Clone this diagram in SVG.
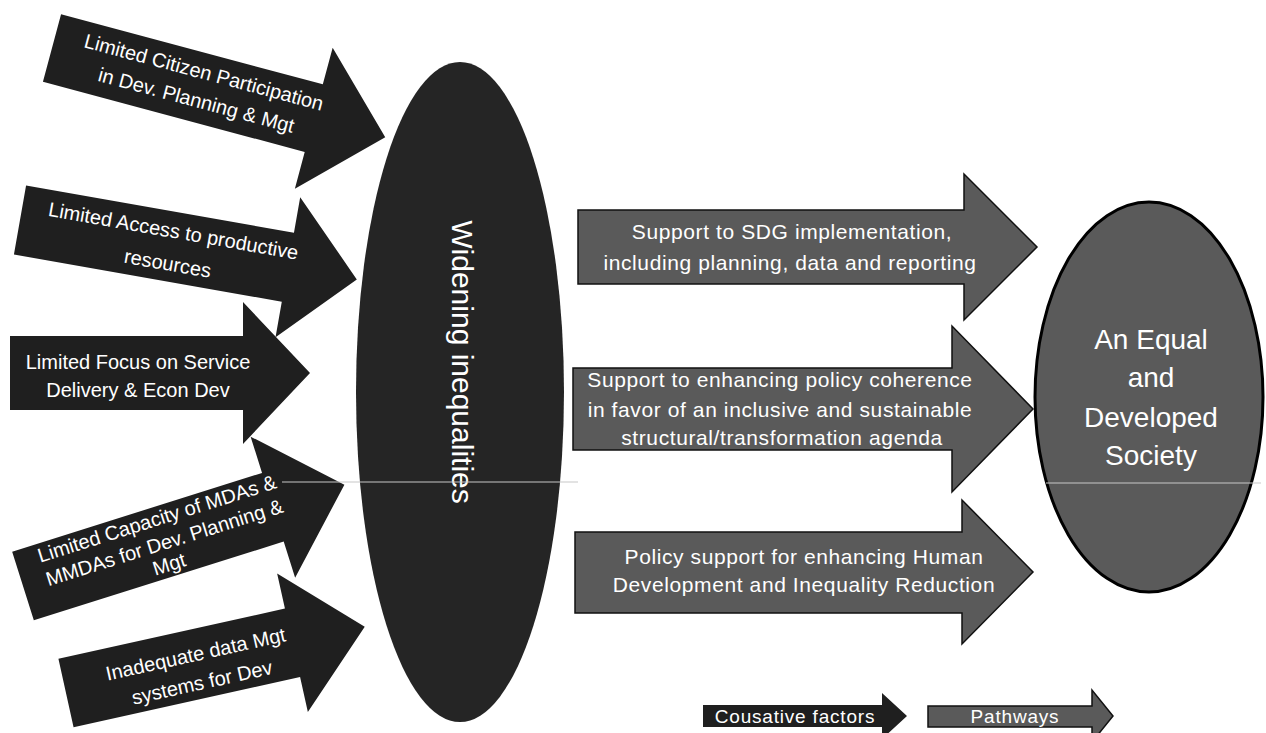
<svg xmlns="http://www.w3.org/2000/svg" width="1266" height="733" viewBox="0 0 1266 733">
<style>
  .cause { fill: #1f1f1f; }
  .path { fill: #5a5a5a; stroke: #111; stroke-width: 1.5; }
  .lt { font-family: "Liberation Sans", Arial, sans-serif; font-size: 20px; fill: #fff; text-anchor: middle; }
  .rt { font-family: "Liberation Sans", Arial, sans-serif; font-size: 21px; fill: #fff; text-anchor: middle; letter-spacing: 0.6px; }
  .big { font-family: "Liberation Sans", Arial, sans-serif; font-size: 28px; fill: #fff; text-anchor: middle; }
  .wid { font-family: "Liberation Sans", Arial, sans-serif; font-size: 30px; fill: #fff; text-anchor: middle; }
  .leg { font-family: "Liberation Sans", Arial, sans-serif; font-size: 19px; fill: #fff; text-anchor: middle; letter-spacing: 0.8px; }
  .scan { stroke: #c8c8c8; stroke-width: 1.2; }
</style>
<rect width="1266" height="733" fill="#fff"/>

<g id="connectors">
  <g id="cause1" transform="translate(52,48) rotate(15)">
    <path class="cause" d="M0,-35 L271,-35 L271,-73 L345,0 L271,73 L271,35 L0,35 Z"/>
    <text class="lt" x="153" y="-9">Limited Citizen Participation</text>
    <text class="lt" x="153" y="20">in Dev. Planning &amp; Mgt</text>
  </g>
  <g id="cause2" transform="translate(20,220) rotate(10)">
    <path class="cause" d="M0,-35 L272,-35 L272,-71 L342,0 L272,71 L272,35 L0,35 Z"/>
    <text class="lt" x="153" y="-9">Limited Access to productive</text>
    <text class="lt" x="153" y="24">resources</text>
  </g>
  <g id="cause3" transform="translate(10,373)">
    <path class="cause" d="M0,-37 L233,-37 L233,-71 L300,0 L233,71 L233,37 L0,37 Z"/>
    <text class="lt" x="128" y="-4">Limited Focus on Service</text>
    <text class="lt" x="128" y="24">Delivery &amp; Econ Dev</text>
  </g>
  <g id="cause4" transform="translate(23,586) rotate(-17.5)">
    <path class="cause" d="M0,-36 L262,-36 L262,-74 L337,0 L262,74 L262,36 L0,36 Z"/>
    <text class="lt" x="148" y="-17">Limited Capacity of MDAs &amp;</text>
    <text class="lt" x="148" y="8">MMDAs for Dev. Planning &amp;</text>
    <text class="lt" x="146" y="30">Mgt</text>
  </g>
  <g id="cause5" transform="translate(66,693) rotate(-12.5)">
    <path class="cause" d="M0,-35 L232,-35 L232,-71 L306,0 L232,71 L232,35 L0,35 Z"/>
    <text class="lt" x="135" y="-3">Inadequate data Mgt</text>
    <text class="lt" x="135" y="26">systems for Dev</text>
  </g>

  <g id="path1">
    <path class="path" d="M578,210 L964,210 L964,174 L1037,247 L964,320 L964,284 L578,284 Z"/>
    <text class="rt" x="792" y="239">Support to SDG implementation,</text>
    <text class="rt" x="790" y="270">including planning, data and reporting</text>
  </g>
  <g id="path2">
    <path class="path" d="M573,368 L952,368 L952,326 L1033,409 L952,492 L952,450 L573,450 Z"/>
    <text class="rt" x="780" y="387">Support to enhancing policy coherence</text>
    <text class="rt" x="780" y="417">in favor of an inclusive and sustainable</text>
    <text class="rt" x="782" y="445">structural/transformation agenda</text>
  </g>
  <g id="path3">
    <path class="path" d="M575,532 L962,532 L962,500 L1033,572 L962,644 L962,613 L575,613 Z"/>
    <text class="rt" x="804" y="564">Policy support for enhancing Human</text>
    <text class="rt" x="804" y="592">Development and Inequality Reduction</text>
  </g>
</g>

<g id="widening">
  <ellipse cx="460" cy="392" rx="104" ry="330" fill="#252525"/>
  <text class="wid" transform="translate(462,362) rotate(90)" x="0" y="10">Widening inequalities</text>
</g>

<g id="society">
  <ellipse cx="1149" cy="397" rx="114" ry="195" fill="#5a5a5a" stroke="#000" stroke-width="3"/>
  <text class="big" x="1151" y="349">An Equal</text>
  <text class="big" x="1151" y="387">and</text>
  <text class="big" x="1151" y="427">Developed</text>
  <text class="big" x="1151" y="465">Society</text>
</g>

<g id="scanlines">
  <line class="scan" x1="282" y1="482" x2="578" y2="482"/>
  <line class="scan" x1="1046" y1="483" x2="1261" y2="483"/>
</g>

<g id="legend">
  <g id="legend-cause">
    <path class="cause" d="M703,705 L882,705 L882,693 L907,716 L882,739 L882,727 L703,727 Z"/>
    <text class="leg" x="795" y="723">Cousative factors</text>
  </g>
  <g id="legend-path">
    <path class="path" d="M928,706 L1092,706 L1092,690 L1113,716 L1092,742 L1092,727 L928,727 Z"/>
    <text class="leg" x="1015" y="723">Pathways</text>
  </g>
</g>
</svg>
